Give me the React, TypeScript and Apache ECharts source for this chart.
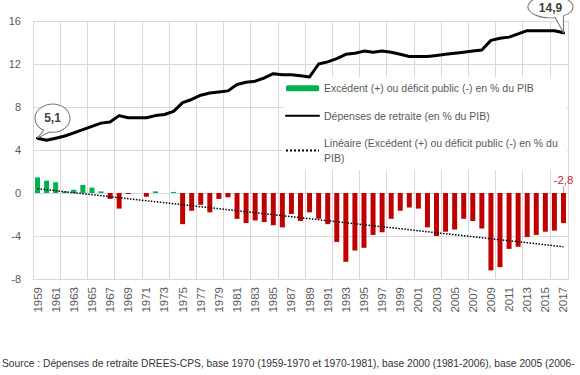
import React, { useEffect, useRef } from "react";
import * as echarts from "echarts";

// Categories: years 1959–2017
const years: string[] = [
  "1959","1960","1961","1962","1963","1964","1965","1966","1967","1968",
  "1969","1970","1971","1972","1973","1974","1975","1976","1977","1978",
  "1979","1980","1981","1982","1983","1984","1985","1986","1987","1988",
  "1989","1990","1991","1992","1993","1994","1995","1996","1997","1998",
  "1999","2000","2001","2002","2003","2004","2005","2006","2007","2008",
  "2009","2010","2011","2012","2013","2014","2015","2016","2017",
];

// Dépenses de retraite (en % du PIB)
const spending: number[] = [
  5.1, 4.9, 5.1, 5.3, 5.6, 5.9, 6.2, 6.5, 6.6, 7.2,
  7.0, 7.0, 7.0, 7.2, 7.3, 7.6, 8.4, 8.7, 9.1, 9.3,
  9.4, 9.5, 10.1, 10.3, 10.4, 10.7, 11.1, 11.0, 11.0, 10.9,
  10.8, 12.0, 12.2, 12.5, 12.9, 13.0, 13.2, 13.1, 13.2, 13.1,
  12.9, 12.7, 12.7, 12.7, 12.8, 12.9, 13.0, 13.1, 13.2, 13.3,
  14.2, 14.4, 14.5, 14.8, 15.1, 15.1, 15.1, 15.1, 14.9,
];

// Excédent (+) ou déficit public (-) en % du PIB
const balance: number[] = [
  1.45, 1.15, 1.0, 0.15, 0.3, 0.75, 0.5, 0.15, -0.55, -1.45,
  -0.1, 0, -0.35, 0.15, 0, 0.1, -2.9, -1.65, -1.1, -1.8,
  -0.55, -0.4, -2.4, -2.8, -2.55, -2.7, -3.0, -3.2, -1.95, -2.6,
  -1.8, -2.4, -2.9, -4.55, -6.4, -5.35, -5.1, -3.9, -3.65, -2.4,
  -1.65, -1.35, -1.45, -3.2, -4.0, -3.6, -3.4, -2.4, -2.6, -3.3,
  -7.2, -6.9, -5.2, -5.0, -4.1, -3.9, -3.6, -3.5, -2.8,
];

// Linear trend endpoints
const trendStart = 0.4;
const trendEnd = -5.0;

const yMin = -8;
const yMax = 16;
const yInterval = 4;

const barName = "Excédent (+) ou déficit public (-) en % du PIB";
const lineName = "Dépenses de retraite (en % du PIB)";
const trendName = "Linéaire (Excédent (+) ou déficit public (-) en % du PIB)";
const sourceText =
  "Source : Dépenses de retraite DREES-CPS, base 1970 (1959-1970 et 1970-1981), base 2000 (1981-2006), base 2005 (2006-";

const GREEN = "#00b050";
const RED = "#c00000";
const FONT = "'Liberation Sans', Arial, sans-serif";

export default function App() {
  const ref = useRef<HTMLDivElement>(null);

  useEffect(() => {
    document.body.style.margin = "0";
    const chart = echarts.init(ref.current!, null, { renderer: "svg" });
    const last = years.length - 1;
    const fmt = (v: number) => String(v).replace(".", ",");

    const bubbleLeft = "path://M14.5 27.8 A17.5 14 0 1 0 8.75 26.1 L2.5 34 Z";
    const bubbleRight = "path://M27.2 21.76 A22.5 11 0 1 1 35.4 20 L35.5 37 Z";

    const trendData = years.map((_, i) =>
      i === 0 ? trendStart : i === last ? trendEnd : null
    );

    chart.setOption({
      animation: false,
      textStyle: { fontFamily: FONT },
      grid: { left: 33, right: 12, top: 21, bottom: 96 },
      legend: {
        orient: "vertical",
        left: 283,
        top: 77,
        backgroundColor: "#ffffff",
        padding: [4, 9, 5, 2],
        itemWidth: 33,
        itemHeight: 6,
        itemGap: 13,
        selectedMode: false,
        textStyle: { color: "#595959", fontSize: 10.5, lineHeight: 14.5, fontFamily: FONT },
        data: [
          { name: barName },
          { name: lineName, itemStyle: { opacity: 0, color: "rgba(0,0,0,0)" } },
          { name: trendName, itemStyle: { opacity: 0, color: "rgba(0,0,0,0)" } },
        ],
        formatter: (n: string) =>
          n === trendName
            ? "Linéaire (Excédent (+) ou déficit public (-) en % du\nPIB)"
            : n,
      },
      xAxis: {
        type: "category",
        data: years,
        boundaryGap: true,
        axisLine: { show: true, onZero: false, lineStyle: { color: "#d9d9d9" } },
        axisTick: { show: false },
        axisLabel: {
          interval: 1,
          rotate: 90,
          color: "#595959",
          fontSize: 11.5,
          margin: 8,
          fontFamily: FONT,
        },
        splitLine: { show: true, interval: 2, lineStyle: { color: "#d9d9d9", width: 1 } },
      },
      yAxis: {
        type: "value",
        min: yMin,
        max: yMax,
        interval: yInterval,
        axisLine: { show: false },
        axisTick: { show: false },
        axisLabel: { color: "#595959", fontSize: 11, margin: 12, fontFamily: FONT },
        splitLine: { show: true, lineStyle: { color: "#d9d9d9", width: 1 } },
      },
      series: [
        {
          name: barName,
          type: "bar",
          barWidth: "55%",
          itemStyle: { color: GREEN },
          labelLine: { show: true, lineStyle: { color: "#a6a6a6", width: 1 } },
          labelLayout: { dy: -6 },
          data: balance.map((v, i) => ({
            value: v,
            itemStyle: { color: v < 0 ? RED : GREEN },
            label:
              i === last
                ? {
                    show: true,
                    position: "top",
                    distance: 1,
                    color: "#c9283e",
                    fontSize: 11.5,
                    fontFamily: FONT,
                    formatter: (p: any) => fmt(p.value),
                  }
                : { show: false },
          })),
          z: 2,
        },
        {
          name: lineName,
          type: "line",
          data: spending,
          symbol: "none",
          lineStyle: { color: "#000000", width: 3, join: "round", cap: "round" },
          itemStyle: { color: "#000000" },
          z: 4,
          markPoint: {
            symbolKeepAspect: false,
            itemStyle: { color: "#ffffff", borderColor: "#7a7a7a", borderWidth: 1 },
            label: {
              show: true,
              position: "inside",
              color: "#404040",
              fontWeight: "bold",
              fontSize: 12,
              fontFamily: FONT,
              formatter: (p: any) => fmt(p.value),
            },
            data: [
              {
                coord: [years[0], spending[0]],
                value: spending[0],
                symbol: bubbleLeft,
                symbolSize: [35, 34],
                symbolOffset: [15, -17],
                label: { offset: [0, -3] },
              },
              {
                coord: [years[last], spending[last]],
                value: spending[last],
                symbol: bubbleRight,
                symbolSize: [45, 37],
                symbolOffset: [-13, -18.5],
                label: { offset: [0, -6] },
              },
            ],
          },
        },
        {
          name: trendName,
          type: "line",
          data: trendData,
          connectNulls: true,
          symbol: "none",
          lineStyle: { color: "#000000", width: 1.5, type: "dotted" },
          itemStyle: { color: "#000000" },
          z: 3,
        },
      ],
      graphic: [
        {
          type: "text",
          left: 2,
          top: 358,
          style: {
            text: sourceText,
            fontSize: 10.25,
            fill: "#333333",
            fontFamily: FONT,
          },
        },
      ],
    });

    return () => chart.dispose();
  }, []);

  return <div ref={ref} style={{ width: 580, height: 375 }} />;
}
